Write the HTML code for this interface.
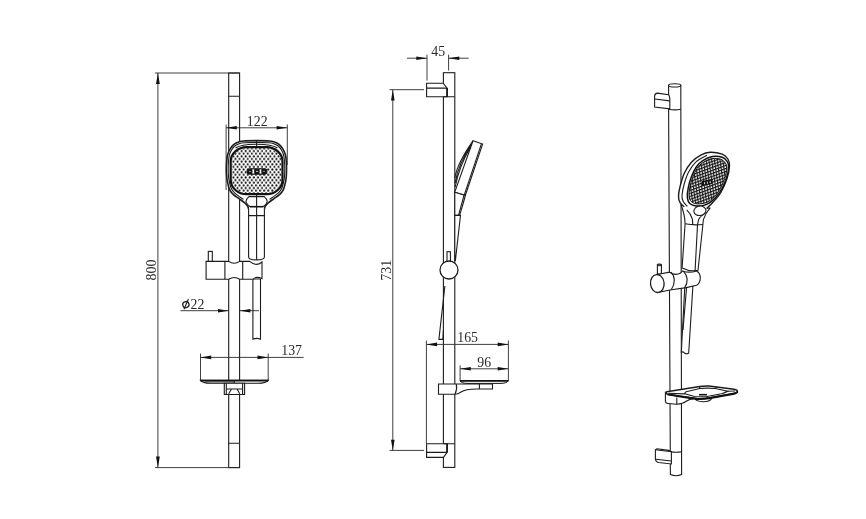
<!DOCTYPE html>
<html><head><meta charset="utf-8">
<style>
html,body{margin:0;padding:0;background:#fff;}
body{width:866px;height:519px;overflow:hidden;font-family:"Liberation Serif",serif;}
svg{display:block;will-change:transform;opacity:.999}
text{font-family:"Liberation Serif",serif;fill:#2a2a2a;}
.l{fill:none;stroke:#1c1c1c;stroke-width:1.1}
.t{fill:none;stroke:#2a2a2a;stroke-width:.9}
.w{fill:#fff;stroke:#1c1c1c;stroke-width:1.1}
.b{fill:none;stroke:#111;stroke-width:1.6}
.a{fill:#111;stroke:none}
</style></head><body>
<svg width="866" height="519" viewBox="0 0 866 519">
<defs>
<pattern id="dots" x="230.3" y="147.1" width="4.1" height="5.28" patternUnits="userSpaceOnUse">
<circle cx="1.05" cy="1.3" r="1.05" fill="#111"/><circle cx="3.1" cy="3.94" r="1.05" fill="#111"/>
</pattern>
<pattern id="hatch" width="2.8" height="2.8" patternUnits="userSpaceOnUse" patternTransform="rotate(-20) skewX(-12)">
<rect width="2.8" height="2.8" fill="#fff"/><path d="M0 .6H2.8M.6 0V2.8" stroke="#111" stroke-width="1.1"/>
</pattern>
</defs>
<rect width="866" height="519" fill="#fff"/>

<!-- ============ LEFT VIEW ============ -->
<g id="left">
<!-- rail -->
<rect class="w" x="228.7" y="73" width="10.9" height="394.6"/>
<path class="l" d="M228.7 96.2H239.6M228.7 443.2H239.6"/>
<!-- 800 dim -->
<path class="t" d="M155 73H239.6M155 467.6H239.6M157.9 73V467.6"/>
<path class="a" d="M157.9 73L156 84H159.8ZM157.9 467.6L156 456.6H159.8Z"/>
<text transform="translate(156.2 270) rotate(-90)" text-anchor="middle" font-size="14">800</text>
<!-- 122 dim -->
<path class="t" d="M226.1 124.5V190M287.3 124.5V165M226.1 127.8H287.3"/>
<path class="a" d="M226.1 127.8L236.8 126V129.6ZM287.3 127.8L276.6 126V129.6Z"/>
<text x="257.2" y="125.8" text-anchor="middle" font-size="13.8">122</text>
<!-- hose below bracket -->
<path class="w" d="M252.9 279V339.2Q256.7 337.6 260.5 339.2V279Z"/>
<!-- head -->
<path d="M264.4 208.9C264.6 208.4 264.8 207.0 265.4 206.0C266.0 205.0 266.6 204.3 268.0 203.1C269.4 201.9 271.8 200.2 273.7 198.8C275.6 197.4 277.9 196.1 279.5 194.6C281.1 193.1 282.4 191.8 283.4 189.6C284.4 187.4 285.1 183.9 285.6 181.5C286.1 179.1 286.2 177.8 286.4 175.0C286.5 172.2 286.6 168.3 286.5 165.0C286.4 161.7 286.1 157.9 285.5 155.3C284.9 152.7 284.1 151.1 283.1 149.3C282.1 147.5 281.0 145.9 279.4 144.6C277.8 143.3 275.6 142.3 273.7 141.7C271.8 141.1 270.9 141.1 268.0 140.9C265.1 140.7 260.3 140.6 256.5 140.6C252.7 140.6 247.9 140.7 245.0 140.9C242.1 141.1 241.2 141.1 239.3 141.7C237.4 142.3 235.2 143.3 233.6 144.6C232.0 145.9 230.9 147.5 229.9 149.3C228.9 151.1 228.1 152.7 227.5 155.3C226.9 157.9 226.7 161.7 226.5 165.0C226.3 168.3 226.4 172.2 226.6 175.0C226.8 177.8 226.9 179.1 227.4 181.5C227.9 183.9 228.6 187.4 229.6 189.6C230.6 191.8 231.9 193.1 233.5 194.6C235.1 196.1 237.4 197.4 239.3 198.8C241.2 200.2 243.6 201.9 245.0 203.1C246.4 204.3 247.0 205.0 247.6 206.0C248.2 207.0 248.4 208.4 248.6 208.9V257C248.6 259.3 252.6 259.9 256.8 259.9C261 259.9 264.4 259.3 264.4 257Z" fill="#fff" stroke="none"/>
<path class="l" style="stroke-width:1.6" d="M264.4 208.9C264.6 208.4 264.8 207.0 265.4 206.0C266.0 205.0 266.6 204.3 268.0 203.1C269.4 201.9 271.8 200.2 273.7 198.8C275.6 197.4 277.9 196.1 279.5 194.6C281.1 193.1 282.4 191.8 283.4 189.6C284.4 187.4 285.1 183.9 285.6 181.5C286.1 179.1 286.2 177.8 286.4 175.0C286.5 172.2 286.6 168.3 286.5 165.0C286.4 161.7 286.1 157.9 285.5 155.3C284.9 152.7 284.1 151.1 283.1 149.3C282.1 147.5 281.0 145.9 279.4 144.6C277.8 143.3 275.6 142.3 273.7 141.7C271.8 141.1 270.9 141.1 268.0 140.9C265.1 140.7 260.3 140.6 256.5 140.6C252.7 140.6 247.9 140.7 245.0 140.9C242.1 141.1 241.2 141.1 239.3 141.7C237.4 142.3 235.2 143.3 233.6 144.6C232.0 145.9 230.9 147.5 229.9 149.3C228.9 151.1 228.1 152.7 227.5 155.3C226.9 157.9 226.7 161.7 226.5 165.0C226.3 168.3 226.4 172.2 226.6 175.0C226.8 177.8 226.9 179.1 227.4 181.5C227.9 183.9 228.6 187.4 229.6 189.6C230.6 191.8 231.9 193.1 233.5 194.6C235.1 196.1 237.4 197.4 239.3 198.8C241.2 200.2 243.6 201.9 245.0 203.1C246.4 204.3 247.0 205.0 247.6 206.0C248.2 207.0 248.4 208.4 248.6 208.9"/>
<path class="l" d="M264.4 208.9L264.4 257C264.4 259.3 261 259.9 256.8 259.9C252.6 259.9 248.6 259.3 248.6 257V208.9"/>
<path class="l" d="M269.5 199.4C270.1 199.0 271.4 198.2 272.8 197.2C274.2 196.2 276.7 194.6 278.2 193.2C279.7 191.8 280.8 190.6 281.7 188.6C282.6 186.6 283.3 183.5 283.8 181.2C284.3 178.9 284.5 177.7 284.6 175.0C284.8 172.3 284.8 168.2 284.7 165.0C284.6 161.8 284.3 158.3 283.8 155.8C283.3 153.3 282.5 151.8 281.6 150.2C280.7 148.6 279.6 147.1 278.2 146.0C276.8 144.9 274.9 144.1 273.2 143.5C271.5 142.9 270.8 142.9 268.0 142.7C265.2 142.5 260.3 142.4 256.5 142.4C252.7 142.4 247.8 142.5 245.0 142.7C242.2 142.9 241.5 142.9 239.8 143.5C238.1 144.1 236.2 144.9 234.8 146.0C233.4 147.1 232.3 148.6 231.4 150.2C230.5 151.8 229.7 153.3 229.2 155.8C228.7 158.3 228.4 161.8 228.3 165.0C228.2 168.2 228.2 172.3 228.4 175.0C228.6 177.7 228.7 178.9 229.2 181.2C229.7 183.5 230.4 186.6 231.3 188.6C232.2 190.6 233.3 191.8 234.8 193.2C236.3 194.6 238.8 196.2 240.2 197.2C241.6 198.2 242.9 199.0 243.5 199.4"/>
<!-- face -->
<path class="l" d="M256.5 144.2C266 144.2 273 144.8 277.4 148M256.5 144.2C247 144.2 240 144.8 235.6 148"/>
<rect x="230.7" y="147.1" width="51.8" height="47.1" rx="16" ry="14.5" fill="#fff" stroke="#111" stroke-width="2.2"/>
<rect x="231.8" y="148.2" width="49.6" height="44.9" rx="15" ry="13.5" fill="url(#dots)" stroke="none"/>
<rect x="246.6" y="168.2" width="20.8" height="6.5" rx="3" fill="#151515"/>
<path d="M249.4 171.4H250.6M256.2 171.4H257.8M263.4 171.4H264.6" stroke="#fff" stroke-width=".9" fill="none"/>
<path d="M253.3 169.7V173.2M260.5 169.7V173.2" stroke="#fff" stroke-width="1.5" fill="none"/><path d="M252.2 169.9H254.4M252.2 173H254.4M259.4 169.9H261.6M259.4 173H261.6" stroke="#fff" stroke-width=".8" fill="none"/>
<!-- neck ring -->
<path class="w" d="M248.9 196.6H264.3Q267.4 199.5 267.2 201.5Q266.6 204.5 263.3 206.5H249.8Q246.6 204.5 246 201.5Q245.8 199.5 248.9 196.6Z"/>
<path class="b" d="M249.8 206.7H263.3"/>
<path class="l" d="M248.7 215.6H265.1M256.6 141V147M256.6 194.4V259.8"/>
<!-- bracket -->
<rect class="w" x="208.3" y="251.4" width="4" height="10.5"/>
<path class="w" d="M206.1 261.4H228.7Q234.2 265 239.7 261.4H249.7Q256 267 262 262V278.6Q256 275.8 252.9 279.3H239.7Q234.2 275.6 228.7 279.3H206.1Z"/>
<path class="l" d="M224.9 261.4V279.3M242.7 261.4V279.3"/>
<!-- phi22 -->
<path class="t" d="M180.5 310.7H229M239.5 310.7H259"/>
<path class="a" d="M228.7 310.7L218 308.9V312.5ZM239.7 310.7L250.4 308.9V312.5Z"/>
<ellipse cx="185.9" cy="304.6" rx="3.1" ry="3" fill="none" stroke="#222" stroke-width="1.3" transform="rotate(-20 185.9 304.6)"/><path d="M184 309.2L188.4 299" stroke="#222" stroke-width="1.1" fill="none"/><text x="190.6" y="308.6" font-size="13.8">22</text>
<!-- 137 -->
<path class="t" d="M200.5 353.5V380.4M268.2 353.5V380.4M200.5 357.4H303.6"/>
<path class="a" d="M200.5 357.4L211.2 355.6V359.2ZM268.2 357.4L257.5 355.6V359.2Z"/>
<text x="291.6" y="355.3" text-anchor="middle" font-size="13.8">137</text>
<!-- tray -->
<path d="M200.5 380.4H268.2Q266 383.3 258 383.3H210.5Q202.5 383.3 200.5 380.4Z" fill="#fff" stroke="#111" stroke-width="1.1"/>
<path class="b" style="stroke-width:1.7" d="M200.5 380.6H268.2"/>
<path class="t" d="M205 381.9H234"/>
<path class="l" d="M234.3 380.6V383.3"/>
<path class="w" d="M224.3 383.3H244.6V394.5H224.3Z"/>
<path class="l" d="M226.3 383.3V394.5M242.6 383.3V394.5M226.3 389H242.6M231.5 389L228.7 393.8M237.1 389L239.7 393.8"/>
</g>

<!-- ============ MIDDLE VIEW ============ -->
<g id="mid">
<!-- rail -->
<rect class="w" x="443.4" y="72.7" width="11.4" height="394.7"/>
<!-- 45 dim -->
<path class="t" d="M407 58.2H427M448.6 58.2H468.7M427 54.7V80.6M448.6 54.7V70.5"/>
<path class="a" d="M427 58.2L416.3 56.4V60ZM448.6 58.2L459.3 56.4V60Z"/>
<text x="438.2" y="55.9" text-anchor="middle" font-size="13.8">45</text>
<!-- top mount -->
<path class="w" d="M426.6 83.2H443.2L447.1 88.1V96.8H426.6Z"/>
<path class="l" d="M426.6 88.1H447.1M443.4 96.8H454.8"/>
<path class="b" d="M447.1 88.1V96.8"/>
<!-- bottom mount -->
<path class="w" d="M426.6 443.7H447.1V452.4L443.5 457.4H426.6Z"/>
<path class="l" d="M426.6 452.4H447.1M443.4 443.7H454.8"/>
<path class="b" d="M447.1 443.7V452.4"/>
<!-- 731 dim -->
<path class="t" d="M389.6 89.7H424M389.6 450.4H424M392.8 89.7V450.4"/>
<path class="a" d="M392.8 89.7L391 100.4H394.6ZM392.8 450.4L391 439.7H394.6Z"/>
<text transform="translate(391 270.3) rotate(-90)" text-anchor="middle" font-size="14">731</text>
<!-- head side -->
<path class="w" d="M473 140.8L482.6 144.1L465.3 195.5L454.7 192.3Z"/>
<path class="l" d="M481.4 143.8L464.2 195.2"/>
<path class="l" d="M473 140.8C463 155 456.5 168 454.8 178M471.8 143.8C463.5 156 457.5 169 455 183M470.6 147C464 158 458.5 170 455.2 187"/>
<path class="w" d="M454.8 192.3L465.3 195.5C463.5 203 461.5 209 459.6 215.4H454.8Z"/>
<path class="l" d="M464 195.2C462.3 202 460.3 209 458.5 215.4"/>
<path class="w" d="M454.8 215.4H460.5L455.4 260.5H454.8Z"/>
<!-- slider -->
<rect class="w" x="447" y="251.7" width="3.4" height="10"/>
<circle class="w" cx="449" cy="270" r="9" style="stroke-width:1.3"/>
<!-- hose -->
<path class="l" d="M444.9 286L438.9 339.4H442.9L443.4 330"/>
<!-- 165 -->
<path class="t" d="M426.4 340.5V443.7M508.4 340.5V380.6M426.4 344.4H508.4"/>
<path class="a" d="M426.4 344.4L437.1 342.6V346.2ZM508.4 344.4L497.7 342.6V346.2Z"/>
<text x="467.6" y="342" text-anchor="middle" font-size="13.8">165</text>
<!-- 96 -->
<path class="t" d="M460.1 365.3V380.6M460.1 368.8H508.4"/>
<path class="a" d="M460.1 368.8L470.8 367V370.6ZM508.4 368.8L497.7 367V370.6Z"/>
<text x="484.2" y="367" text-anchor="middle" font-size="13.8">96</text>
<!-- tray side -->
<path d="M460.1 380.6H508.4Q507 383.4 500 383.4H467Q461.5 383.4 460.1 380.6Z" fill="#fff" stroke="#111"/>
<path class="b" style="stroke-width:1.8" d="M460.1 380.8H508.4"/>
<path class="w" d="M438.5 384H492.5V389H479.4Q466 388.6 461 392Q458 394.3 455 394.3H438.5Z"/>
<path class="l" d="M479.4 384V389M456.3 384Q457.4 389 455 394.3"/>
<path class="l" d="M443.4 384V394.3M454.8 384V394.3" style="stroke:#fff;stroke-width:0"/>
</g>

<!-- ============ RIGHT VIEW (iso) ============ -->
<g id="iso">
<!-- rail -->
<path class="w" d="M668.6 85.4V109.3L670.4 474.6Q676 477 681.6 474.6L680.8 85.4Z"/>
<ellipse class="w" cx="674.7" cy="85.4" rx="6.1" ry="1.6"/>
<path class="l" d="M668.6 109.3Q674.7 110.4 680.8 109.3M670.3 451.8Q676 452.8 681.5 451.8"/>
<!-- top mount -->
<path class="w" d="M654.6 96.2Q654.8 93.2 657.4 93.1L668.6 94.7Q669.8 96.4 669.8 98.6V108.9L654.6 107Z"/>
<path class="l" d="M654.6 99L669.8 100.9"/>
<!-- bottom mount -->
<path class="w" d="M655.4 449.8L657 448.8L668.5 450.4L671.4 451.7V464L658.6 462.5Q655.6 461.8 655.4 459.3Z"/>
<path class="l" d="M655.4 449.8L671.4 451.7M655.8 459.2L671.4 461"/>
<!-- hose -->
<path class="w" d="M684.8 287L681.3 352.1Q683 351.4 684.4 353Q686.4 354.6 688.7 353L692.9 286Z"/>
<path class="l" d="M686.6 287L683 330"/>
<!-- handle -->
<path class="w" d="M681.3 205.3Q682.6 209 683.6 213Q685 218 685.1 223.8L682.1 268Q690 272 698 270.3L702.9 224.5Q703 221 703.6 219.1Q705.6 213 709.8 208.3Z"/>
<path class="l" d="M685.1 223.8Q694 225.6 702.9 224.5M697.5 225L695.1 270.4M686.7 209.9Q691 214 692.4 219.1L692.8 224.6M706 212.4Q700.4 216 698.6 219.6L697.5 224.8"/>
<!-- head -->
<path d="M706.8 208.4C707.8 207.4 710.2 205.3 712.5 202.7C714.8 200.1 718.2 197.1 720.6 193.0C723.0 188.9 725.6 183.0 727.1 178.4C728.6 173.8 729.4 168.6 729.5 165.4C729.6 162.2 729.1 160.9 727.9 159.0C726.7 157.1 725.2 155.2 722.2 154.1C719.2 153.0 713.6 152.1 710.1 152.2C706.6 152.3 704.3 153.2 701.2 154.9C698.1 156.6 694.2 159.1 691.4 162.2C688.6 165.3 686.1 169.4 684.2 173.5C682.3 177.6 681.1 182.7 680.1 186.5C679.1 190.3 678.5 193.5 678.5 196.2C678.5 198.9 679.1 200.9 680.1 202.7C681.1 204.5 683.5 206.1 684.2 206.8Z" fill="#fff" stroke="none"/>
<path class="l" style="stroke-width:1.4" d="M706.8 208.4C707.8 207.4 710.2 205.3 712.5 202.7C714.8 200.1 718.2 197.1 720.6 193.0C723.0 188.9 725.6 183.0 727.1 178.4C728.6 173.8 729.4 168.6 729.5 165.4C729.6 162.2 729.1 160.9 727.9 159.0C726.7 157.1 725.2 155.2 722.2 154.1C719.2 153.0 713.6 152.1 710.1 152.2C706.6 152.3 704.3 153.2 701.2 154.9C698.1 156.6 694.2 159.1 691.4 162.2C688.6 165.3 686.1 169.4 684.2 173.5C682.3 177.6 681.1 182.7 680.1 186.5C679.1 190.3 678.5 193.5 678.5 196.2C678.5 198.9 679.1 200.9 680.1 202.7C681.1 204.5 683.5 206.1 684.2 206.8"/>
<path class="l" d="M707.0 155.2C705.2 156.3 699.1 159.0 696.0 161.8C692.9 164.6 690.6 168.3 688.6 172.0C686.6 175.7 685.3 180.1 684.2 184.0C683.1 187.9 682.2 192.6 682.0 195.5C681.8 198.4 682.3 199.7 683.2 201.5C684.1 203.3 686.7 205.6 687.4 206.4"/>
<path d="M712.5 156.5C715.7 155.9 719.8 156.5 722.2 157.3C724.6 158.1 726.0 159.8 727.1 161.4C728.2 163.0 728.8 164.2 728.7 167.0C728.6 169.8 727.8 174.2 726.3 178.4C724.8 182.6 722.4 188.3 719.8 192.2C717.2 196.1 713.5 199.8 710.9 201.9C708.3 204.1 706.8 204.4 704.4 205.1C702.0 205.8 698.7 206.3 696.3 206.0C693.9 205.7 691.3 204.9 689.8 203.5C688.3 202.1 687.7 200.4 687.4 197.8C687.1 195.2 687.5 191.6 688.2 188.1C688.9 184.6 690.0 180.3 691.4 176.8C692.8 173.3 694.4 169.7 696.3 167.0C698.2 164.3 700.1 162.3 702.8 160.6C705.5 158.8 709.3 157.1 712.5 156.5Z" fill="#fff" stroke="#111" stroke-width="1.5"/>
<path d="M712.0 158.6C715.0 158.1 718.7 158.6 720.9 159.3C723.1 160.1 724.4 161.6 725.4 163.1C726.4 164.6 727.0 165.6 726.9 168.2C726.7 170.8 726.0 174.8 724.7 178.6C723.3 182.5 721.1 187.7 718.7 191.3C716.4 194.9 712.9 198.2 710.6 200.1C708.2 202.1 706.8 202.5 704.6 203.1C702.4 203.7 699.4 204.1 697.2 203.9C695.0 203.7 692.6 202.9 691.3 201.6C689.9 200.4 689.3 198.7 689.1 196.4C688.8 194.0 689.2 190.7 689.8 187.5C690.4 184.3 691.5 180.4 692.7 177.2C694.0 174.0 695.5 170.7 697.2 168.2C698.9 165.7 700.7 164.0 703.2 162.4C705.6 160.8 709.1 159.1 712.0 158.6Z" fill="url(#hatch)" stroke="#111" stroke-width="1"/>
<path d="M702 181L712.6 179L712.4 184L701.8 185.8Z" fill="#111"/>
<path d="M704.6 182.2V184.2M707.4 181.7V183.7M710.2 181.2V183.2" stroke="#fff" stroke-width=".9"/>
<!-- neck ring -->
<ellipse class="w" cx="699.9" cy="210.8" rx="6.1" ry="4.7" transform="rotate(-8 699.9 210.8)"/>
<!-- bracket -->
<path class="w" d="M657.4 264.9V274H661.4V264.9Z"/>
<ellipse class="w" cx="659.4" cy="264.9" rx="2" ry=".8"/>
<path class="w" d="M657.3 274.5L669.5 272.2Q675 276 680.7 273L682.4 270.9Q689 273.4 696.6 270.9Q700.4 273 700.3 278Q700 283.4 696.6 285.3L686.2 287.6L670 290L657.3 292.5Z"/>
<ellipse class="w" cx="657.3" cy="283.5" rx="6.8" ry="9" transform="rotate(-6 657.3 283.5)" style="stroke-width:1.3"/>
<path class="l" d="M671.2 272.2Q677.6 280 671.2 289.8M683.4 271.2Q690.4 279 684.6 287.9"/>
<!-- tray -->
<path class="w" d="M665.4 392.3V401Q665.6 403.3 668 403.5L676.8 404.3Q683 403.6 686.2 401.2Q690 398.8 693.5 398.6L678.9 396Z"/>
<path class="l" d="M676.8 397.4V404.3"/>
<path class="w" d="M695 398.5Q695.4 401.2 703 401.8Q711 401.6 711.6 398.2Z"/>
<path class="w" style="stroke-width:1.5" d="M665.9 392.6Q666.6 391.2 668.5 391.6L699.7 386.6Q704 385.9 709 386.1L734 389.2Q737.8 390 737.4 391.5Q736.6 392.9 733 393.5L709 397.9Q703 398.9 696.6 398.6L678.9 396L668.5 394.5Q665.8 394 665.9 392.6Z"/>
<path class="l" d="M686.2 391.8L699.7 388.5Q707 387.8 715.3 388.5L727.8 391.3Q725 392.8 721.5 393.7L707 396.5Q700 397 694.5 396.5L685.1 393.9Q684.4 392.6 686.2 391.8Z"/>
<path class="l" d="M668.5 393.2L685.1 393.9M699.7 386.6L699.7 388.5M715.3 388.5L716.5 387M727.8 391.3L735 391M707 396.5L707.4 398.2"/>
<path class="b" d="M699 394.7H707" style="stroke-width:1.6"/>
<path d="M667.5 394.2L678.9 396.2L696.6 398.9Q703 399.3 709 398.3L733 393.9Q736.8 393.2 737.5 391.6" fill="none" stroke="#111" stroke-width="2"/>
</g>
</svg>
</body></html>
